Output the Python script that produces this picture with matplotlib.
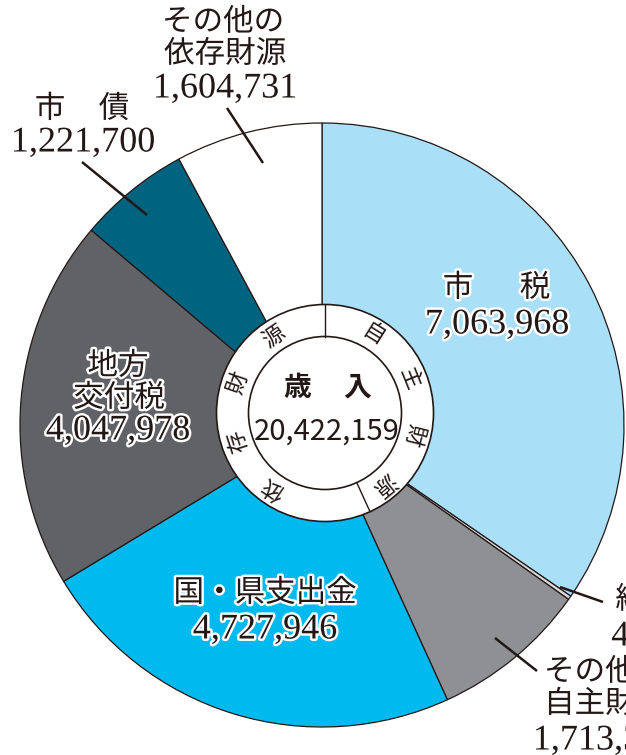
import matplotlib
matplotlib.use('Agg')
import matplotlib.pyplot as plt
import matplotlib.patheffects as pe
from matplotlib.patches import Circle
import numpy as np

# ---- data ----
categories = ['市税', '繰入金', 'その他の自主財源', '国・県支出金', '地方交付税', '市債', 'その他の依存財源']
values = [7063968, 42524, 1713312, 4727946, 4047978, 1221700, 1604731]
value_labels = ['7,063,968', '42,524', '1,713,312', '4,727,946', '4,047,978', '1,221,700', '1,604,731']
total_label = '20,422,159'
colors = ['#aadff8', '#d9dadb', '#8f9094', '#00b9ef', '#616266', '#00637f', '#ffffff']

W, H = 626, 755
fig = plt.figure(figsize=(W / 100, H / 100), dpi=100)
ax = fig.add_axes([0, 0, 1, 1])


def Y(y):
    return H - y


INK = '#231815'
JP = ['Noto Sans CJK JP', 'DejaVu Sans']
NUM = ['Liberation Serif', 'DejaVu Serif']
halo = [pe.withStroke(linewidth=3.5, foreground='white')]

cx, cy, R = 322, 425, 302
ax.pie(values, colors=colors, startangle=90, counterclock=False,
       center=(cx, Y(cy)), radius=R, frame=True,
       wedgeprops=dict(edgecolor=INK, linewidth=0.9))
ax.set_xlim(0, W)
ax.set_ylim(0, H)
ax.set_aspect('equal')
ax.axis('off')

# ---- inner ring ----
rcx, rcy = 325, 413
r_out, r_in = 108.5, 76.5
ax.add_patch(Circle((rcx, Y(rcy)), r_out, fc='white', ec=INK, lw=1.2, zorder=3))
ax.add_patch(Circle((rcx, Y(rcy)), r_in, fc='white', ec=INK, lw=1.2, zorder=4))
total = sum(values)
own = sum(values[:3])
for ang in [90, 90 - 360 * own / total]:
    a = np.radians(ang)
    ax.plot([rcx + r_in * np.cos(a), rcx + r_out * np.cos(a)],
            [Y(rcy) + r_in * np.sin(a), Y(rcy) + r_out * np.sin(a)],
            color=INK, lw=1.0, zorder=5)

ring_r = 92
for ch, ang in zip('自主財源', [58, 22, -14, -50]):
    a = np.radians(ang)
    ax.text(rcx + ring_r * np.cos(a), Y(rcy) + ring_r * np.sin(a), ch,
            rotation=ang - 90, ha='center', va='center', fontsize=16,
            family=JP, color=INK, zorder=6, rotation_mode='anchor')
for ch, ang in zip('依存財源', [236, 198, 161, 124]):
    a = np.radians(ang)
    ax.text(rcx + ring_r * np.cos(a), Y(rcy) + ring_r * np.sin(a), ch,
            rotation=ang - 90, ha='center', va='center', fontsize=16,
            family=JP, color=INK, zorder=6, rotation_mode='anchor')

# center
ax.text(297, Y(388), '歳', ha='center', va='center', fontsize=20, family=JP,
        weight='bold', color=INK, zorder=6)
ax.text(357, Y(388), '入', ha='center', va='center', fontsize=20, family=JP,
        weight='bold', color=INK, zorder=6)
ax.text(327, Y(432), total_label, ha='center', va='center', fontsize=21,
        family=JP, color=INK, zorder=6)


def jp(x, y, s, size=22):
    ax.text(x, Y(y), s, ha='center', va='center', fontsize=size, family=JP,
            color=INK, path_effects=halo, zorder=7)


def num(x, y, s, size=26):
    ax.text(x, Y(y), s, ha='center', va='center', fontsize=size, family=NUM,
            color=INK, path_effects=halo, zorder=7)


# 市税
jp(458, 288, '市')
jp(535, 288, '税')
num(497, 325, value_labels[0])
# 繰入金
jp(661, 600, '繰入金')
num(661, 637, value_labels[1])
# その他の自主財源
jp(605, 672, 'その他の')
jp(605, 704, '自主財源')
num(605, 741, value_labels[2])
# 国・県支出金
jp(265, 593, '国・県支出金')
num(265, 630, value_labels[3])
# 地方交付税
jp(118, 366, '地方')
jp(119, 398, '交付税')
num(118, 431, value_labels[4])
# 市債
jp(50, 109, '市')
jp(114, 109, '債')
num(83, 143, value_labels[5])
# その他の依存財源
jp(223, 22, 'その他の')
jp(225, 54, '依存財源')
num(225, 89, value_labels[6])

# leader lines
leaders = [((560, 587), (603, 602)),
           ((495, 638), (537, 671)),
           ((82, 162), (147, 215)),
           ((227, 108), (263, 163))]
for (x0, y0), (x1, y1) in leaders:
    ax.plot([x0, x1], [Y(y0), Y(y1)], color=INK, lw=1.8, zorder=6,
            solid_capstyle='butt')

fig.savefig('out.png', dpi=100)
